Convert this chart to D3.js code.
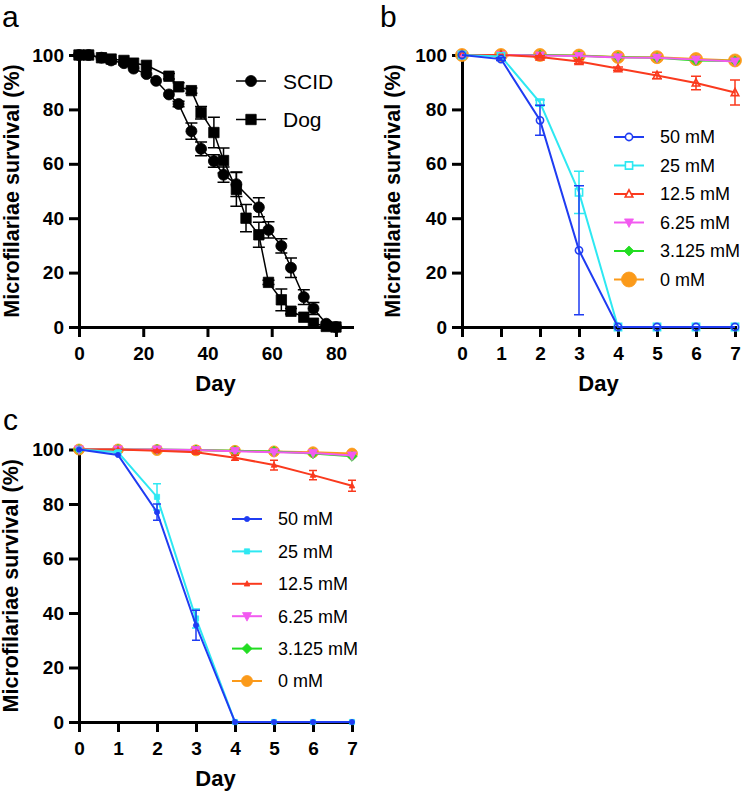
<!DOCTYPE html>
<html>
<head>
<meta charset="utf-8">
<script src="https://cdn.jsdelivr.net/npm/d3@7"></script>
<style>
  body { margin: 0; background: #fff; }
  svg { display: block; font-family: "Liberation Sans", Arial, sans-serif; }
</style>
</head>
<body>
<svg id="chart" width="742" height="792"></svg>
<script>
// ---------- data ----------
// panel a: survival over 80 days
const scidDays = [0, 3, 7, 10, 14, 17, 21, 24, 28, 31, 35, 38, 42, 45, 49, 56, 59, 63, 66, 70, 73, 77, 80];
const scidVals = [100, 100, 99, 98, 97, 95, 93, 90.5, 85.5, 82, 72, 65.5, 61, 56, 52.5, 44, 35.7, 29.8, 21.8, 11, 6.8, 1.2, 0];
const scidErr  = [0, 0, 0, 0, 0, 0, 0, 0, 0, 1, 3, 2.5, 2.3, 2.8, 4.5, 3.5, 3, 2.6, 3.6, 2.7, 2.2, 0, 0];
const dogDays  = [0, 3, 7, 10, 14, 17, 21, 28, 31, 35, 38, 42, 45, 49, 52, 56, 59, 63, 66, 70, 73, 77, 80];
const dogVals  = [100, 100, 99, 98.5, 98, 97, 96.2, 92.2, 88.3, 86.9, 78.8, 71.5, 61.2, 50.6, 40, 33.9, 16.4, 10, 5.8, 3.6, 1.4, 0.2, 0];
const dogErr   = [0, 0, 0, 0, 0, 0, 0, 1, 1.5, 1, 2.3, 5.6, 4.6, 6.2, 5, 4.6, 0.8, 4, 1, 0, 0, 0, 0];

// panels b and c: 7 days, six concentrations
const days = [0, 1, 2, 3, 4, 5, 6, 7];
const concLabels = ["50 mM", "25 mM", "12.5 mM", "6.25 mM", "3.125 mM", "0 mM"];
const concColors = ["#1f3cf2", "#2ee8f2", "#fa3a1e", "#f25af0", "#22dd22", "#fb9a1a"];

const b50 = [100, 98.5, 76, 28.2, 0, 0, 0, 0];
const b25 = [100, 99.5, 82.5, 49.5, 0, 0, 0, 0];
const b12 = [100, 100, 99.3, 97.6, 95, 92.5, 89.7, 86.2];
const b6  = [100, 100, 99.8, 99.6, 99.1, 99, 98.3, 97.6];
const b3  = [100, 100, 100, 99.7, 99.2, 99, 98, 97.8];
const b0  = [100, 100, 100, 99.8, 99.3, 99.2, 98.5, 98];
const b50Err = [0, 0.5, 5.5, 23.7, 0, 0, 0, 0];
const b25Err = [0, 0, 1, 7.8, 0, 0, 0, 0];
const b12Err = [0, 0, 0.4, 0.7, 0.6, 1.2, 2.5, 4.6];

const c50 = [100, 98, 77, 35.5, 0, 0, 0, 0];
const c25 = [100, 99, 82.6, 38, 0, 0, 0, 0];
const c12 = [100, 100, 99.5, 99, 97, 94.3, 90.6, 86.7];
const c6  = [100, 100, 100, 99.8, 99.4, 99, 98.7, 97.8];
const c3  = [100, 100, 100, 99.8, 99.5, 99.3, 98.5, 97.5];
const c0  = [100, 100, 99.8, 99.7, 99.5, 99.3, 99, 98.5];
const c50Err = [0, 0, 3, 5.5, 0, 0, 0, 0];
const c25Err = [0, 0.5, 4.8, 3.5, 0, 0, 0, 0];
const c12Err = [0, 0, 0.3, 0.6, 0.9, 1.8, 1.7, 2];

const yTicks = [0, 20, 40, 60, 80, 100];

const svg = d3.select("#chart");

// marker path centered on 0,0 ; s = half size
function markerPath(shape, s) {
    switch (shape) {
        case "circle":
            return `M${s},0A${s},${s} 0 1,1 ${-s},0A${s},${s} 0 1,1 ${s},0Z`;
        case "square":
            return `M${-s},${-s}H${s}V${s}H${-s}Z`;
        case "triUp":
            return `M0,${-s * 1.1}L${s},${s * 0.8}L${-s},${s * 0.8}Z`;
        case "triDown":
            return `M0,${s * 1.1}L${s},${-s * 0.8}L${-s},${-s * 0.8}Z`;
        case "diamond":
            return `M0,${-s * 1.2}L${s * 1.2},0L0,${s * 1.2}L${-s * 1.2},0Z`;
    }
}

// axes + titles for one panel
function drawFrame(o) {
    const g = svg.append("g");
    const xAxis = d3.axisBottom(o.x).tickValues(o.xTicks).tickFormat(d3.format("d"))
        .tickSize(10).tickSizeOuter(0).tickPadding(5);
    const yAxis = d3.axisLeft(o.y).tickValues(yTicks).tickFormat(d3.format("d"))
        .tickSize(10).tickSizeOuter(0).tickPadding(5);

    const gx = g.append("g").attr("transform", `translate(0,${o.y(0)})`).call(xAxis);
    const gy = g.append("g").attr("transform", `translate(${o.x(0)},0)`).call(yAxis);
    [gx, gy].forEach(a => {
        a.select(".domain").attr("stroke-width", 3).attr("stroke-linecap", "square");
        a.selectAll(".tick line").attr("stroke-width", 3);
        a.selectAll(".tick text")
            .attr("font-family", "Liberation Sans, Arial, sans-serif")
            .attr("font-size", 19).attr("font-weight", "bold").attr("fill", "#000");
    });
    gx.selectAll(".tick text").attr("dy", "0.95em");

    // axis titles
    const xr = o.x.range();
    g.append("text")
        .attr("x", (xr[0] + xr[1]) / 2).attr("y", o.y(0) + 64)
        .attr("text-anchor", "middle").attr("font-size", 22).attr("font-weight", "bold")
        .text("Day");
    const yr = o.y.range();
    g.append("text")
        .attr("transform", `translate(${o.yLabelX},${(yr[0] + yr[1]) / 2}) rotate(-90)`)
        .attr("text-anchor", "middle").attr("font-size", 21.5).attr("font-weight", "bold")
        .text("Microfilariae survival (%)");

    // panel letter
    g.append("text").attr("x", o.letterX).attr("y", o.letterY)
        .attr("font-size", 30).text(o.letter);
    return g;
}

function drawSeries(g, x, y, s) {
    const pts = s.days.map((d, i) => ({ d: d, v: s.vals[i], e: s.err ? s.err[i] : 0 }));
    const sg = g.append("g");
    // error bars
    sg.selectAll(".err").data(pts.filter(p => p.e > 0)).enter().append("path")
        .attr("d", p => {
            const cx = x(p.d), y1 = y(p.v + p.e), y2 = y(Math.max(0, p.v - p.e)), w = s.cap / 2;
            return `M${cx},${y1}V${y2}M${cx - w},${y1}H${cx + w}M${cx - w},${y2}H${cx + w}`;
        })
        .attr("fill", "none").attr("stroke", s.color).attr("stroke-width", s.errWidth || 1.5);
    sg.append("path")
        .datum(pts)
        .attr("d", d3.line().x(p => x(p.d)).y(p => y(p.v)))
        .attr("fill", "none").attr("stroke", s.color).attr("stroke-width", s.lineWidth);
    sg.selectAll(".mk").data(pts).enter().append("path")
        .attr("transform", p => `translate(${x(p.d)},${y(p.v)})`)
        .attr("d", markerPath(s.shape, s.size))
        .attr("fill", s.open ? "none" : s.color)
        .attr("stroke", s.color).attr("stroke-width", s.open ? 1.6 : 0.8);
}

function drawLegend(g, series, o) {
    series.forEach((s, i) => {
        const ly = o.y0 + i * o.dy;
        const lg = g.append("g").attr("transform", `translate(${o.x0},${ly})`);
        lg.append("line").attr("x1", 0).attr("x2", 30).attr("stroke", s.color).attr("stroke-width", s.lineWidth);
        lg.append("path").attr("transform", "translate(15,0)")
            .attr("d", markerPath(s.shape, s.legendSize || s.size))
            .attr("fill", s.open ? "#fff" : s.color)
            .attr("stroke", s.color).attr("stroke-width", s.open ? 1.6 : 0.8);
        lg.append("text").attr("x", o.textDx).attr("dy", "0.36em")
            .attr("font-size", o.fontSize).text(s.label);
    });
}

// ---------- panel a ----------
{
    const x = d3.scaleLinear().domain([0, 85]).range([79, 352]);
    const y = d3.scaleLinear().domain([0, 100]).range([327, 55]);
    const g = drawFrame({ x, y, xTicks: [0, 20, 40, 60, 80], yLabelX: 19, letter: "a", letterX: 2, letterY: 27 });
    const series = [
        { label: "SCID", days: scidDays, vals: scidVals, err: scidErr, color: "#000", shape: "circle", size: 5.5, lineWidth: 1.5, cap: 12 },
        { label: "Dog", days: dogDays, vals: dogVals, err: dogErr, color: "#000", shape: "square", size: 5.2, lineWidth: 1.5, cap: 12 }
    ];
    series.forEach(s => drawSeries(g, x, y, s));
    drawLegend(g, series, { x0: 236, y0: 81, dy: 38.5, textDx: 47, fontSize: 21 });
}

// ---------- panel b ----------
{
    const x = d3.scaleLinear().domain([0, 7]).range([462, 735]);
    const y = d3.scaleLinear().domain([0, 100]).range([327, 55]);
    const g = drawFrame({ x, y, xTicks: days, yLabelX: 400, letter: "b", letterX: 380, letterY: 27 });
    const series = [
        { vals: b50, err: b50Err, shape: "circle", size: 3.6, open: true },
        { vals: b25, err: b25Err, shape: "square", size: 3.6, open: true },
        { vals: b12, err: b12Err, shape: "triUp", size: 3.8, open: true },
        { vals: b6, shape: "triDown", size: 4.5 },
        { vals: b3, shape: "diamond", size: 4.2 },
        { vals: b0, shape: "circle", size: 6.5, legendSize: 7.5 }
    ].map((s, i) => Object.assign(s, { label: concLabels[i], color: concColors[i], days: days, lineWidth: 2, cap: 10 }));
    series.slice().reverse().forEach(s => drawSeries(g, x, y, s));
    drawLegend(g, series, { x0: 614, y0: 137, dy: 28.5, textDx: 46, fontSize: 18 });
}

// ---------- panel c ----------
{
    const x = d3.scaleLinear().domain([0, 7]).range([79, 352]);
    const y = d3.scaleLinear().domain([0, 100]).range([722, 449.5]);
    const g = drawFrame({ x, y, xTicks: days, yLabelX: 18, letter: "c", letterX: 3, letterY: 430 });
    const series = [
        { vals: c50, err: c50Err, shape: "circle", size: 2.6 },
        { vals: c25, err: c25Err, shape: "square", size: 2.6 },
        { vals: c12, err: c12Err, shape: "triUp", size: 2.8 },
        { vals: c6, shape: "triDown", size: 4.5 },
        { vals: c3, shape: "diamond", size: 4.2 },
        { vals: c0, shape: "circle", size: 5.5 }
    ].map((s, i) => Object.assign(s, { label: concLabels[i], color: concColors[i], days: days, lineWidth: 2, cap: 8 }));
    series.slice().reverse().forEach(s => drawSeries(g, x, y, s));
    drawLegend(g, series, { x0: 232, y0: 519, dy: 32.4, textDx: 46, fontSize: 18 });
}
</script>
</body>
</html>
